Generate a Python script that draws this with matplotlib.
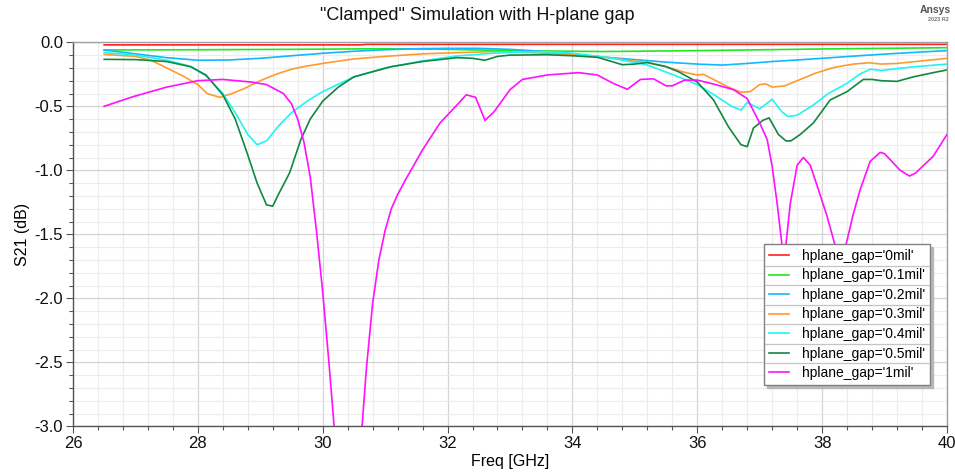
import matplotlib
matplotlib.use("Agg")
import matplotlib.pyplot as plt
from matplotlib.lines import Line2D
from matplotlib.ticker import MultipleLocator, FormatStrFormatter

plt.rcParams['font.family'] = ['Liberation Sans', 'DejaVu Sans']

# S21 sweeps (GHz, dB) for each H-plane gap value
f_0mil = [26.5, 30.6, 30.7, 40.0]
s_0mil = [-0.020, -0.020, -0.016, -0.016]

f_01mil = [26.5, 28.0, 29.5, 31.0, 32.0, 33.0, 34.5, 36.0, 38.0, 40.0]
s_01mil = [-0.060, -0.058, -0.055, -0.050, -0.055, -0.065, -0.072, -0.065, -0.052, -0.042]

f_02mil = [26.5, 27.0, 27.5, 28.0, 28.5, 29.0, 29.5, 30.0, 30.5, 31.0, 31.5, 32.0,
           32.5, 33.0, 33.5, 34.0, 34.5, 35.0, 35.5, 36.0, 36.4, 36.8, 37.2, 37.6,
           38.0, 38.5, 39.0, 39.5, 40.0]
s_02mil = [-0.060, -0.090, -0.120, -0.140, -0.138, -0.125, -0.105, -0.086, -0.070,
           -0.058, -0.050, -0.047, -0.047, -0.055, -0.070, -0.090, -0.115, -0.135,
           -0.155, -0.170, -0.178, -0.165, -0.150, -0.138, -0.125, -0.108, -0.092,
           -0.078, -0.065]

f_03mil = [26.5, 27.0, 27.25, 27.5, 27.75, 28.0, 28.15, 28.35, 28.55, 28.75, 29.0,
           29.25, 29.5, 29.75, 30.0, 30.5, 31.0, 31.6, 32.2, 32.7, 33.2, 33.6, 34.0,
           34.4, 34.9, 35.2, 35.5, 35.8, 36.0, 36.1, 36.3, 36.5, 36.7, 36.85, 37.0,
           37.1, 37.2, 37.4, 37.6, 37.9, 38.2, 38.5, 38.75, 38.95, 39.2, 39.5, 40.0]
s_03mil = [-0.095, -0.110, -0.140, -0.200, -0.260, -0.330, -0.400, -0.430, -0.400,
           -0.360, -0.300, -0.250, -0.210, -0.185, -0.165, -0.130, -0.110, -0.090,
           -0.080, -0.073, -0.078, -0.086, -0.097, -0.110, -0.140, -0.160, -0.190,
           -0.235, -0.255, -0.250, -0.300, -0.350, -0.390, -0.385, -0.330, -0.325,
           -0.350, -0.340, -0.300, -0.240, -0.195, -0.170, -0.160, -0.170, -0.165,
           -0.150, -0.125]

f_04mil = [26.5, 27.0, 27.5, 27.9, 28.15, 28.4, 28.6, 28.8, 28.95, 29.1, 29.3, 29.5,
           29.75, 30.0, 30.5, 31.0, 31.6, 32.15, 32.7, 33.2, 33.6, 34.0, 34.65, 35.2,
           35.7, 36.0, 36.3, 36.55, 36.7, 36.8, 37.0, 37.2, 37.35, 37.45, 37.6, 37.86,
           38.1, 38.4, 38.6, 38.77, 38.95, 39.2, 39.5, 40.0]
s_04mil = [-0.080, -0.100, -0.140, -0.190, -0.270, -0.400, -0.550, -0.720, -0.800,
           -0.770, -0.650, -0.550, -0.460, -0.385, -0.270, -0.200, -0.145, -0.107,
           -0.086, -0.075, -0.073, -0.085, -0.125, -0.177, -0.270, -0.330, -0.420,
           -0.500, -0.530, -0.470, -0.520, -0.445, -0.540, -0.580, -0.570, -0.490,
           -0.400, -0.320, -0.250, -0.210, -0.220, -0.205, -0.190, -0.170]

f_05mil = [26.5, 27.0, 27.5, 27.88, 28.13, 28.4, 28.6, 28.8, 28.95, 29.1, 29.2, 29.3,
           29.47, 29.65, 29.8, 30.0, 30.25, 30.5, 31.1, 31.6, 32.15, 32.4, 32.6, 32.8,
           33.0, 33.6, 34.0, 34.4, 34.8, 35.0, 35.2, 35.5, 35.7, 36.0, 36.26, 36.5,
           36.7, 36.8, 36.9, 37.05, 37.15, 37.3, 37.42, 37.5, 37.65, 37.86, 38.13,
           38.4, 38.66, 38.8, 38.95, 39.2, 39.46, 39.8, 40.0]
s_05mil = [-0.133, -0.135, -0.150, -0.190, -0.255, -0.410, -0.600, -0.880, -1.100,
           -1.270, -1.280, -1.180, -1.020, -0.760, -0.600, -0.460, -0.350, -0.270,
           -0.190, -0.150, -0.120, -0.125, -0.140, -0.110, -0.100, -0.097, -0.105,
           -0.117, -0.175, -0.170, -0.157, -0.190, -0.230, -0.310, -0.450, -0.660,
           -0.800, -0.815, -0.670, -0.610, -0.590, -0.720, -0.770, -0.770, -0.720,
           -0.630, -0.450, -0.385, -0.290, -0.290, -0.300, -0.305, -0.270, -0.235,
           -0.216]

f_1mil = [26.5, 26.96, 27.5, 28.0, 28.4, 28.85, 29.1, 29.37, 29.5, 29.6, 29.7, 29.8,
          29.9, 30.0, 30.1, 30.2, 30.4, 30.6, 30.7, 30.8, 30.9, 31.0, 31.1, 31.2,
          31.32, 31.6, 31.88, 32.15, 32.3, 32.45, 32.6, 32.75, 33.0, 33.2, 33.6, 34.1,
          34.4, 34.65, 34.88, 35.09, 35.3, 35.5, 35.6, 35.8, 36.0, 36.26, 36.58, 36.8,
          37.0, 37.12, 37.2, 37.28, 37.39, 37.49, 37.6, 37.7, 37.81, 37.94, 38.08,
          38.3, 38.5, 38.61, 38.77, 38.93, 39.0, 39.25, 39.4, 39.5, 39.78, 40.0]
s_1mil = [-0.500, -0.425, -0.350, -0.300, -0.290, -0.310, -0.330, -0.400, -0.480,
          -0.600, -0.780, -1.050, -1.470, -1.950, -2.500, -3.100, -4.400, -3.200,
          -2.550, -2.040, -1.700, -1.470, -1.300, -1.190, -1.080, -0.840, -0.630,
          -0.490, -0.410, -0.430, -0.610, -0.540, -0.370, -0.290, -0.255, -0.237,
          -0.255, -0.320, -0.367, -0.290, -0.285, -0.340, -0.340, -0.295, -0.295,
          -0.326, -0.370, -0.440, -0.630, -0.760, -0.970, -1.260, -1.720, -1.260,
          -0.960, -0.900, -0.960, -1.150, -1.360, -1.750, -1.340, -1.150, -0.930,
          -0.860, -0.870, -1.000, -1.045, -1.020, -0.890, -0.720]

labels = ["hplane_gap='0mil'", "hplane_gap='0.1mil'", "hplane_gap='0.2mil'",
          "hplane_gap='0.3mil'", "hplane_gap='0.4mil'", "hplane_gap='0.5mil'",
          "hplane_gap='1mil'"]
colors = ['#ff2020', '#20e820', '#10b8ff', '#ff9a30', '#20f4f4', '#108840', '#ff10ff']
series = [(f_0mil, s_0mil), (f_01mil, s_01mil), (f_02mil, s_02mil), (f_03mil, s_03mil),
          (f_04mil, s_04mil), (f_05mil, s_05mil), (f_1mil, s_1mil)]

W, H = 955, 476
fig = plt.figure(figsize=(W / 100, H / 100), dpi=100)
ax = fig.add_axes([0.0764, 0.1044, 0.9152, 0.8067])

for (f, s), c, lab in zip(series, colors, labels):
    ax.plot(f, s, color=c, lw=1.2, label=lab, solid_joinstyle='round')

ax.set_xlim(26, 40)
ax.set_ylim(-3.0, 0.0)
ax.xaxis.set_major_locator(MultipleLocator(2))
ax.xaxis.set_minor_locator(MultipleLocator(0.4))
ax.yaxis.set_major_locator(MultipleLocator(0.5))
ax.yaxis.set_minor_locator(MultipleLocator(0.1))
ax.yaxis.set_major_formatter(FormatStrFormatter('%.1f'))

ax.grid(which='major', color='#d4d4d4', lw=0.9)
ax.grid(which='minor', color='#ececec', lw=0.8)
ax.set_axisbelow(True)

for side in ['left', 'bottom']:
    ax.spines[side].set_color('#555555')
    ax.spines[side].set_linewidth(1.0)
for side in ['top', 'right']:
    ax.spines[side].set_color('#a0a0a0')
    ax.spines[side].set_linewidth(1.0)

ax.tick_params(which='major', direction='out', length=5, width=0.8, color='#555555',
               labelsize=12, labelcolor='#111111', pad=2)
ax.tick_params(which='minor', direction='out', length=3, width=0.8, color='#555555')

ax.set_xlabel('Freq [GHz]', fontsize=11.5, labelpad=2)
ax.set_ylabel('S21 (dB)', fontsize=11.5, labelpad=3)

fig.text(0.5, 0.968, '"Clamped" Simulation with H-plane gap', ha='center', va='center',
         fontsize=13, color='#111111')
fig.text(0.996, 0.980, 'Ansys', ha='right', va='center', fontsize=7.5,
         fontweight='bold', color='#555555')
fig.text(0.993, 0.958, '2023 R2', ha='right', va='center', fontsize=4,
         fontweight='bold', color='#777777')

leg = ax.legend(loc='lower right', bbox_to_anchor=(0.9805, 0.1075), fontsize=10,
                frameon=True, fancybox=False, framealpha=1, edgecolor='#808080',
                shadow={'color': '#b8b8b8', 'alpha': 1.0},
                handlelength=1.5, handletextpad=0.9, labelspacing=0.4,
                borderpad=0.35, borderaxespad=0)
leg.get_frame().set_linewidth(1.0)
for line in leg.get_lines():
    line.set_linewidth(1.2)

# thin separators between the legend rows
fig.canvas.draw()
renderer = fig.canvas.get_renderer()
frame_box = leg.get_frame().get_window_extent(renderer)
centers = []
for t in leg.get_texts():
    bb = t.get_window_extent(renderer)
    centers.append((bb.y0 + bb.y1) / 2)
for a, b in zip(centers[:-1], centers[1:]):
    y = (a + b) / 2 / H
    fig.add_artist(Line2D([frame_box.x0 / W + 0.001, frame_box.x1 / W - 0.001], [y, y],
                          color='#c4c4c4', lw=0.9, transform=fig.transFigure, zorder=10))

fig.savefig('out.png', dpi=100)
